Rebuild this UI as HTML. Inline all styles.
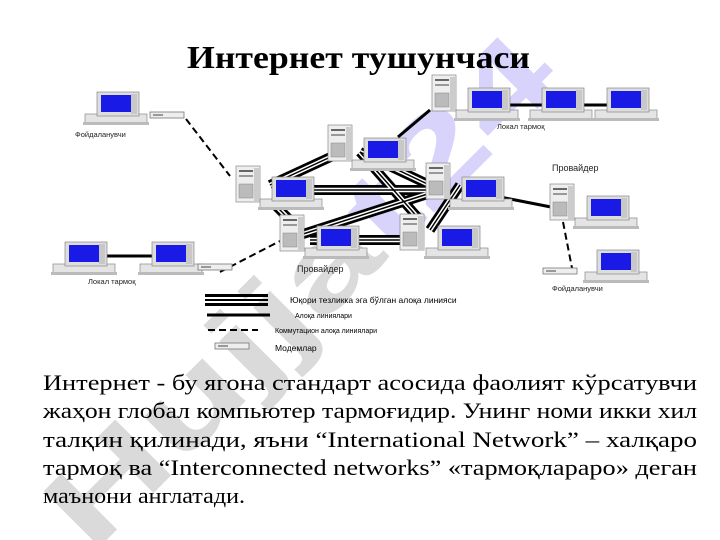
<!DOCTYPE html>
<html><head><meta charset="utf-8"><style>html,body{margin:0;padding:0;background:#fff;width:720px;height:540px;overflow:hidden}svg{display:block}</style></head>
<body>
<svg width="720" height="540" viewBox="0 0 720 540" xmlns="http://www.w3.org/2000/svg" font-family="Liberation Sans, sans-serif" style="overflow:hidden">
<defs>
<clipPath id="cl"><rect x="0" y="0" width="720" height="540"/></clipPath>
<g id="pc">
 <rect x="-30" y="16" width="62" height="10" fill="#e4e4e4" stroke="#888" stroke-width="0.7"/>
 <rect x="-32" y="24" width="66" height="3" fill="#bbb"/>
 <rect x="-18" y="-6" width="42" height="24" fill="#ddd" stroke="#888" stroke-width="0.7"/>
 <rect x="-14" y="-3" width="30" height="17" fill="#1a1ae6"/>
 <rect x="16" y="-4" width="6" height="20" fill="#c8c8c8"/>
</g>
<g id="tw">
 <rect x="0" y="0" width="24" height="36" fill="#eee" stroke="#888" stroke-width="0.7"/>
 <rect x="3" y="4" width="14" height="2" fill="#666"/>
 <rect x="3" y="9" width="14" height="2" fill="#999"/>
 <rect x="3" y="18" width="14" height="14" fill="#bbb" stroke="#888" stroke-width="0.5"/>
 <rect x="18" y="2" width="6" height="34" fill="#ccc"/>
</g>
<g id="modem">
 <rect x="0" y="0" width="34" height="6" fill="#eee" stroke="#777" stroke-width="0.8"/>
 <rect x="3" y="2" width="10" height="2" fill="#999"/>
</g>
</defs>
<g clip-path="url(#cl)">
<!-- watermark -->
<g transform="translate(300,290) rotate(-45)" opacity="0.3" font-family="Liberation Sans, sans-serif" font-weight="bold" font-size="115">
 <text x="-335" y="40" textLength="670" lengthAdjust="spacingAndGlyphs"><tspan fill="#888">Hujja</tspan><tspan fill="#8070f0">t24</tspan></text>
</g>

<text x="187" y="68" font-family="Liberation Serif, serif" font-weight="bold" font-size="32" textLength="343" lengthAdjust="spacingAndGlyphs">Интернет тушунчаси</text>

<g stroke-linecap="butt">
 <g stroke="#000" stroke-width="10">
  <line x1="270" y1="185" x2="350" y2="148"/><line x1="300" y1="190" x2="440" y2="190"/>
  <line x1="270" y1="200" x2="295" y2="225"/><line x1="360" y1="152" x2="440" y2="190"/>
  <line x1="360" y1="152" x2="420" y2="220"/><line x1="300" y1="235" x2="440" y2="190"/>
  <line x1="310" y1="240" x2="420" y2="240"/><line x1="430" y1="230" x2="460" y2="185"/>
 </g>
 <g stroke="#fff" stroke-width="4.5">
  <line x1="270" y1="185" x2="350" y2="148"/><line x1="300" y1="190" x2="440" y2="190"/>
  <line x1="270" y1="200" x2="295" y2="225"/><line x1="360" y1="152" x2="440" y2="190"/>
  <line x1="360" y1="152" x2="420" y2="220"/><line x1="300" y1="235" x2="440" y2="190"/>
  <line x1="310" y1="240" x2="420" y2="240"/><line x1="430" y1="230" x2="460" y2="185"/>
 </g>
 <g stroke="#000" stroke-width="1.5">
  <line x1="270" y1="185" x2="350" y2="148"/><line x1="300" y1="190" x2="440" y2="190"/>
  <line x1="270" y1="200" x2="295" y2="225"/><line x1="360" y1="152" x2="440" y2="190"/>
  <line x1="360" y1="152" x2="420" y2="220"/><line x1="300" y1="235" x2="440" y2="190"/>
  <line x1="310" y1="240" x2="420" y2="240"/><line x1="430" y1="230" x2="460" y2="185"/>
 </g>
</g>
<g stroke="#000" stroke-width="3">
 <line x1="430" y1="110" x2="398" y2="137"/>
 <line x1="480" y1="105" x2="630" y2="105"/>
 <line x1="100" y1="256" x2="160" y2="256"/>
 <line x1="495" y1="196" x2="556" y2="208"/>
</g>
<g stroke="#000" stroke-width="2" stroke-dasharray="7,4">
 <line x1="186" y1="119" x2="230" y2="176"/>
 <line x1="220" y1="272" x2="282" y2="240"/>
 <line x1="563" y1="222" x2="572" y2="268"/>
</g>

<use href="#pc" x="115" y="98"/><use href="#modem" x="150" y="112"/>
<use href="#tw" x="236" y="166"/><use href="#pc" x="290" y="183"/>
<use href="#tw" x="328" y="125"/><use href="#pc" x="382" y="144"/>
<use href="#tw" x="280" y="215"/><use href="#pc" x="335" y="232"/>
<use href="#tw" x="426" y="163"/><use href="#pc" x="480" y="183"/>
<use href="#tw" x="400" y="214"/><use href="#pc" x="456" y="232"/>
<use href="#tw" x="432" y="75"/><use href="#pc" x="486" y="94"/>
<use href="#pc" x="560" y="94"/><use href="#pc" x="625" y="94"/>
<use href="#tw" x="550" y="184"/><use href="#pc" x="605" y="202"/>
<use href="#pc" x="615" y="256"/><use href="#modem" x="543" y="268"/>
<use href="#pc" x="83" y="248"/><use href="#pc" x="170" y="248"/><use href="#modem" x="198" y="264"/>

<g font-size="7.5" fill="#222">
 <text x="75" y="137">Фойдаланувчи</text>
 <text x="497" y="129">Локал тармоқ</text>
 <text x="552" y="171" font-size="9">Провайдер</text>
 <text x="552" y="291">Фойдаланувчи</text>
 <text x="88" y="284">Локал тармоқ</text>
 <text x="297" y="272" font-size="9">Провайдер</text>
</g>

<rect x="205" y="294" width="63" height="3" fill="#000"/><rect x="205" y="299" width="63" height="2" fill="#000"/><rect x="205" y="303" width="63" height="3" fill="#000"/>
<text x="290" y="303" font-size="8.5">Юқори тезликка эга бўлган алоқа линияси</text>
<line x1="207" y1="315" x2="270" y2="315" stroke="#000" stroke-width="3"/>
<text x="295" y="318" font-size="7">Алоқа линиялари</text>
<line x1="208" y1="330" x2="258" y2="330" stroke="#000" stroke-width="2" stroke-dasharray="7,4"/>
<text x="275" y="333" font-size="7">Коммутацион алоқа линиялари</text>
<use href="#modem" x="215" y="343"/>
<text x="275" y="351" font-size="8.5">Модемлар</text>

<g font-family="Liberation Serif, serif" font-size="22" fill="#000">
 <text x="43" y="390" textLength="654" lengthAdjust="spacingAndGlyphs">Интернет - бу ягона стандарт асосида фаолият кўрсатувчи</text>
 <text x="43" y="418" textLength="654" lengthAdjust="spacingAndGlyphs">жаҳон глобал компьютер тармоғидир. Унинг номи икки хил</text>
 <text x="43" y="447" textLength="654" lengthAdjust="spacingAndGlyphs">талқин қилинади, яъни “International Network” – халқаро</text>
 <text x="43" y="475" textLength="654" lengthAdjust="spacingAndGlyphs">тармоқ ва “Interconnected networks” «тармоқлараро» деган</text>
 <text x="43" y="503" textLength="202" lengthAdjust="spacingAndGlyphs">маънони англатади.</text>
</g>
</g>
</svg>
</body></html>
